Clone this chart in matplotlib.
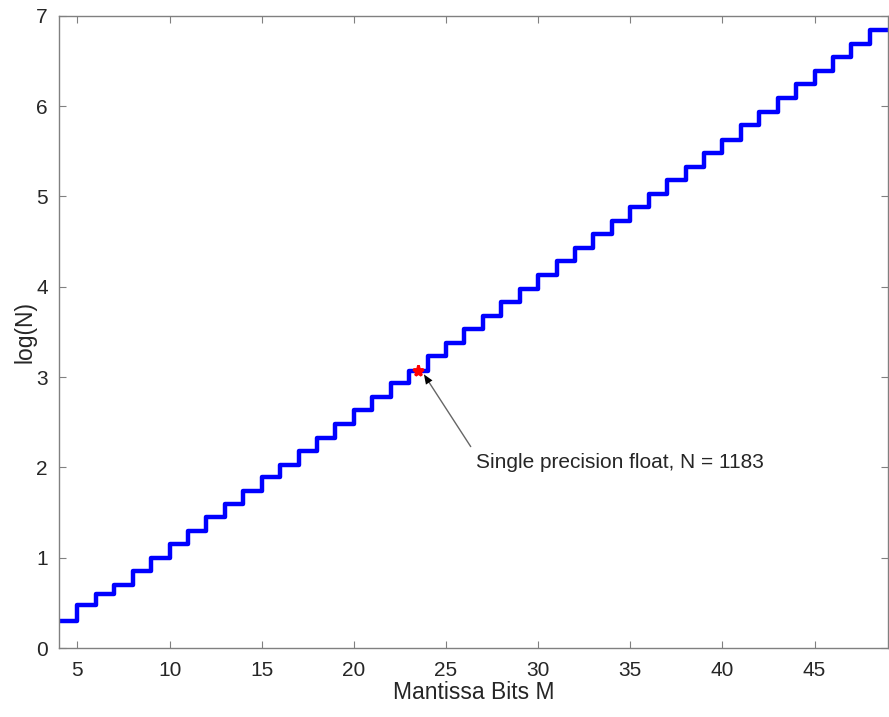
import numpy as np
import matplotlib
matplotlib.use('Agg')
import matplotlib.pyplot as plt

plt.rcParams['font.family'] = ['Liberation Sans', 'DejaVu Sans']

# Data
mantissa_bits = list(range(4, 50))
log_n = [0.30, 0.48, 0.60, 0.70, 0.85, 1.00, 1.15, 1.30, 1.45, 1.59,
         1.74, 1.89, 2.03, 2.18, 2.33, 2.48, 2.63, 2.78, 2.93, 3.07,
         3.23, 3.38, 3.53, 3.68, 3.83, 3.98, 4.13, 4.28, 4.43, 4.58,
         4.73, 4.88, 5.03, 5.18, 5.33, 5.48, 5.63, 5.79, 5.94, 6.09,
         6.24, 6.39, 6.54, 6.69, 6.84]
single_m = 23.5
single_log_n = 3.07
note_text = 'Single precision float, N = 1183'
arrow_tip = (23.8, 3.03)
arrow_tail = (26.34, 2.23)
note_pos = (26.6, 2.05)

x_ticks = [5, 10, 15, 20, 25, 30, 35, 40, 45]
y_ticks = [0, 1, 2, 3, 4, 5, 6, 7]

fig = plt.figure(figsize=(8.89, 7.17), dpi=100)
ax = fig.add_axes([0.0664, 0.0962, 0.9328, 0.8818])

# stairs: repeat last value so the final step reaches the right edge
y_stairs = log_n + [log_n[-1]]
ax.step(mantissa_bits, y_stairs, where='post', color=(0, 0, 1), lw=3.2)
ax.plot(single_m, single_log_n, marker='*', color='red', ms=8, mew=2)

# arrow: gray shaft, black head
ax.annotate('', xy=arrow_tip, xytext=arrow_tail,
            arrowprops=dict(arrowstyle='-', color='#666666', lw=1,
                            shrinkA=0, shrinkB=4))
ax.annotate('', xy=arrow_tip, xytext=arrow_tail,
            arrowprops=dict(arrowstyle='-|>,head_length=0.5,head_width=0.2',
                            fc='black', ec='black', lw=0,
                            shrinkA=0, shrinkB=0, mutation_scale=14))
ax.text(note_pos[0], note_pos[1], note_text, fontsize=15, color='#262626',
        va='center', ha='left')

ax.set_xlim(4, 49)
ax.set_ylim(0, 7)
ax.set_xticks(x_ticks)
ax.set_yticks(y_ticks)
ax.tick_params(direction='in', length=5, width=0.8, colors='#808080',
               labelcolor='#262626', labelsize=15, top=True, right=True)
ax.tick_params(axis='x', pad=9)
ax.tick_params(axis='y', pad=8)
for s in ax.spines.values():
    s.set_color('#808080')
    s.set_linewidth(1)

ax.set_xlabel('Mantissa Bits M', fontsize=16.5, color='#262626', labelpad=1)
ax.set_ylabel('log(N)', fontsize=16.5, color='#262626', labelpad=0)

fig.savefig('out.png', dpi=100)
